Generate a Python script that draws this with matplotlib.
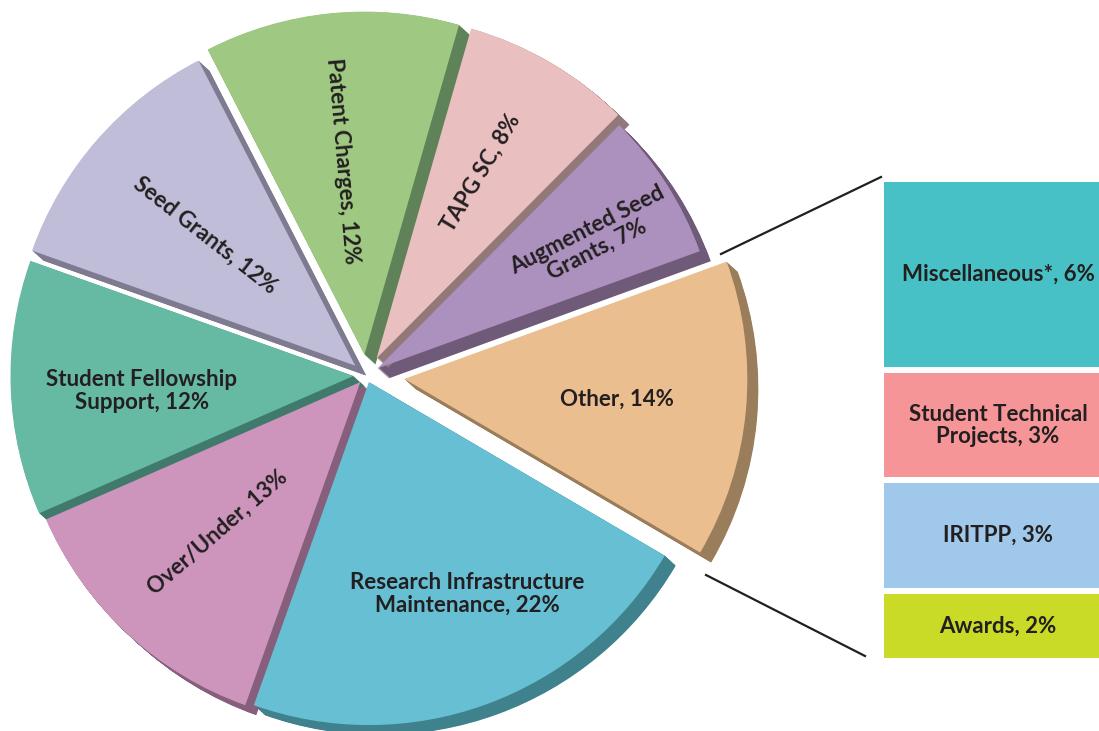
import matplotlib
matplotlib.use("Agg")
import matplotlib.pyplot as plt
import numpy as np

plt.rcParams["font.family"] = ["Lato", "DejaVu Sans"]

# pie, clockwise from "Other"
categories = ["Other", "Research Infrastructure\nMaintenance", "Over/Under",
              "Student Fellowship\nSupport", "Seed Grants", "Patent Charges",
              "TAPG SC", "Augmented Seed\nGrants"]
shares = [14, 22, 13, 12, 12, 12, 8, 7]
colors = ["#EBBE8F", "#66BFD2", "#CD95BC", "#66BAA4", "#C0BDD8", "#9FC982", "#EABFC0", "#AC90BD"]
side_colors = ["#9A7D5B", "#3F818C", "#875F7D", "#3F7A6C", "#7E7B91", "#5F8258", "#927878", "#6F5A7A"]

# breakdown of "Other", top to bottom
other_names = ["Miscellaneous*, 6%", "Student Technical\nProjects, 3%", "IRITPP, 3%", "Awards, 2%"]
other_values = [5.65, 3.18, 3.18, 1.96]
other_colors = ["#48C1C6", "#F59597", "#A0C8EA", "#C9DB26"]

W, H = 1099, 731
fig = plt.figure(figsize=(W / 100, H / 100), dpi=100)
ax = fig.add_axes([0, 0, 1, 1])

cx, cy = 366.5, H - 375.5
radius = 343
explode = [38, 7, 9, 13, 15, 21, 20, 13]

# side faces: same pie swept down and to the right
for t in np.linspace(0, 1, 23)[1:]:
    wedges, _ = ax.pie(shares, explode=explode, colors=side_colors, startangle=20,
                       counterclock=False, radius=radius, center=(cx + 11 * t, cy - 10 * t))
    for w in wedges:
        w.set_zorder(1)

wedges, _ = ax.pie(shares, explode=explode, colors=colors, startangle=20,
                   counterclock=False, radius=radius, center=(cx, cy))
for w in wedges:
    w.set_zorder(2)

ax.set_xlim(0, W)
ax.set_ylim(0, H)
ax.set_aspect("equal")
ax.axis("off")

label_x = [617, 467, 218, 142, 205, 342, 481, 592]
label_y = [399, 594, 532, 391, 235, 161, 173, 240]
label_rot = [0, 0, 41, 0, -38, -85, 59, 27]
for name, val, x, y, r in zip(categories, shares, label_x, label_y, label_rot):
    ax.text(x, H - y, f"{name}, {val}%", ha="center", va="center", rotation=r,
            rotation_mode="anchor", fontsize=16, fontweight="bold", color="#231F20",
            linespacing=1.1, zorder=3)

# leader lines
ax.plot([721, 881], [H - 254, H - 177], color="#231F20", lw=1.6, zorder=3)
ax.plot([706, 865], [H - 575, H - 656], color="#231F20", lw=1.6, zorder=3)

# stacked breakdown
ax2 = fig.add_axes([884 / W, (H - 658) / H, 215 / W, 476 / H])
gap = 0.183
tops = sum(other_values) + gap * 3 - np.concatenate([[0], np.cumsum(other_values[:-1])]) \
    - gap * np.arange(4)
for name, val, top, c in zip(other_names, other_values, tops, other_colors):
    ax2.bar(0, val, bottom=top - val, width=1, color=c)
    ax2.text(0.03, top - val / 2, name, ha="center", va="center", fontsize=16,
             fontweight="bold", color="#231F20", linespacing=1.1)
ax2.set_xlim(-0.5, 0.5)
ax2.set_ylim(0, sum(other_values) + gap * 3)
ax2.axis("off")

fig.savefig("out.png", dpi=100)
